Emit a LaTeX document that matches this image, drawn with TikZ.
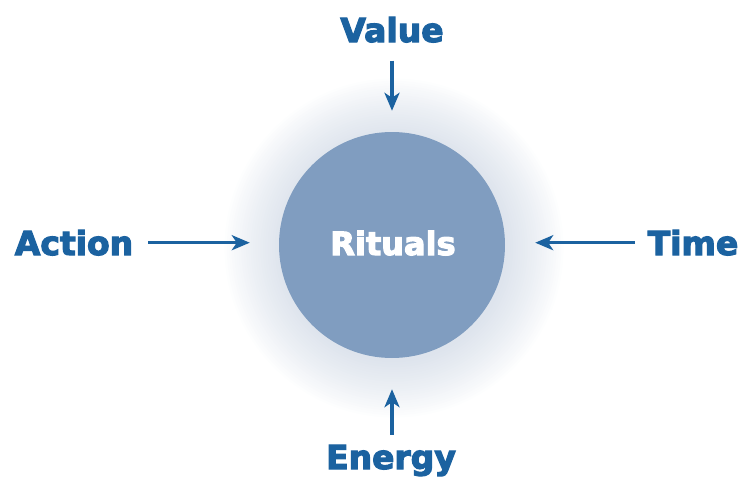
\documentclass[tikz,border=0pt]{standalone}
\usepackage{fontspec}
\setmainfont{DejaVu Sans}[BoldFeatures={FakeBold=3.5}]
\usepackage{tikz}
\usetikzlibrary{arrows.meta}

\definecolor{labelblue}{HTML}{1B62A0}
\definecolor{ritualfill}{HTML}{809DC0}
\definecolor{glowblue}{HTML}{B4C2D6}

\tikzset{
  every label node/.style={text=labelblue, font=\fontsize{33}{38}\selectfont\bfseries, anchor=base, inner sep=0pt},
  feed arrow/.style={draw=labelblue, line width=3.6pt, -{Stealth[length=18pt, width=15pt, inset=5pt]}}
}

\begin{document}
\begin{tikzpicture}[x=1pt, y=-1pt]
\useasboundingbox (0,0) rectangle (742,479);

% soft halo round the circle
\foreach \r in {1,...,24}
  \fill [glowblue, opacity=0.022] (394,248) circle (112+\r*2.4);

\node [circle, fill=ritualfill, minimum size=226pt, inner sep=0pt] (rituals) at (392,245) {};
\node [text=white, font=\fontsize{32}{37}\selectfont\bfseries, anchor=base, inner sep=0pt] (rituals-text) at (393,255) {Rituals};

\foreach \n/\t/\x/\y in {value/Value/392/42, action/Action/74/255, time/Time/693/255, energy/Energy/391/469}
  \node [every label node/.try] (\n) at (\x,\y) {\t};

\draw [feed arrow, shorten <=18pt, shorten >=21pt] (value.south) -- (rituals.north);
\draw [feed arrow, shorten <=15pt, shorten >=29pt] (action.east) -- (action.east -| rituals.west);
\draw [feed arrow, shorten <=13pt, shorten >=30pt] (time.west) -- (time.west -| rituals.east);
\draw [feed arrow, shorten <=10pt, shorten >=31pt] (rituals.south |- energy.north) -- (rituals.south);
\end{tikzpicture}
\end{document}
